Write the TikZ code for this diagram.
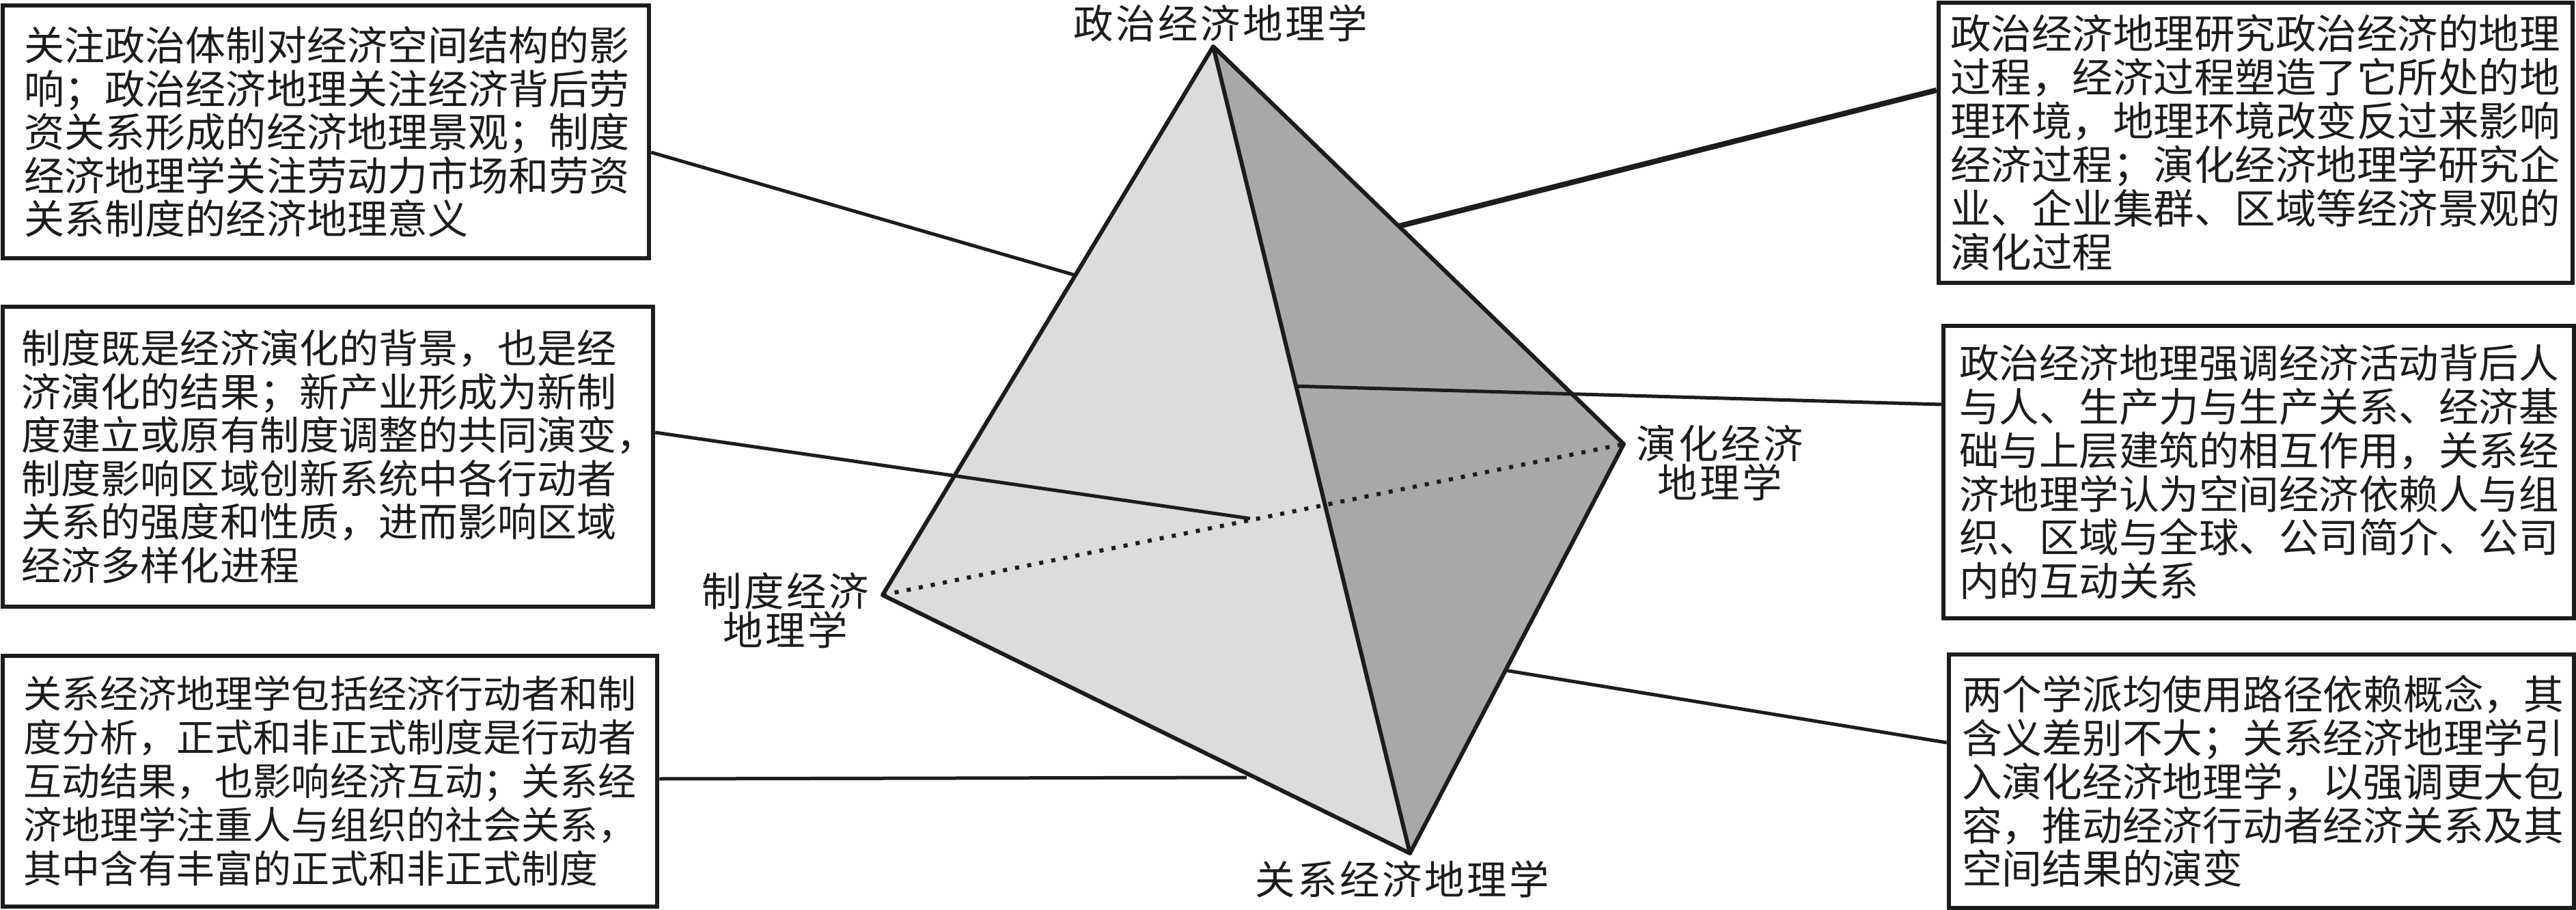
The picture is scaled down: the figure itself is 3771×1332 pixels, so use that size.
\documentclass[tikz,border=0pt]{standalone}
\usepackage{fontspec}
\setmainfont{Noto Sans CJK SC}
\newfontfamily\labfont[LetterSpace=6]{Noto Sans CJK SC}
\usetikzlibrary{calc}
\definecolor{ink}{HTML}{1C1C1C}
\definecolor{faceL}{HTML}{DCDCDC}
\definecolor{faceR}{HTML}{A8A8A8}
\tikzset{
  box/.style={draw=ink, line width=1.3pt, fill=white, inner sep=0pt, align=left, text=ink},
  lab/.style={font=\labfont\fontsize{11.7pt}{11.4pt}\selectfont, text=ink, inner sep=0pt, align=center},
  conn/.style={draw=ink, line width=1pt},
  thickconn/.style={draw=ink, line width=1.6pt},
  edge3d/.style={draw=ink, line width=1.2pt, line join=round},
  hidden/.style={draw=ink, line width=1.2pt, dash pattern=on 1.2pt off 2.4pt},
}
\begin{document}
\begin{tikzpicture}[x=0.2pt, y=-0.2pt]
\path[use as bounding box, fill=white] (0,0) rectangle (3771,1332);

% tetrahedron vertices
\coordinate (P) at (1776,68);
\coordinate (I) at (1292,871);
\coordinate (R) at (2064,1249);
\coordinate (E) at (2377,650);

% faces
\fill[faceL] (P) -- (I) -- (R) -- cycle;
\fill[faceR] (P) -- (R) -- (E) -- cycle;
\draw[edge3d] (P) -- (I) -- (R) -- (E) -- cycle;
\draw[edge3d] (P) -- (R);
\draw[hidden] (I) -- (E);

% vertex labels
\node[lab] (lP) at (1787,34) {政治经济地理学};
\node[lab] (lR) at (2053,1287) {关系经济地理学};
\node[lab] (lI) at (1150,894) {制度经济\\地理学};
\node[lab] (lE) at (2518,678) {演化经济\\地理学};

% boxes
\node[box, font=\fontsize{11.8pt}{12.7pt}\selectfont, minimum width=189.2pt, minimum height=74pt, text width=176.4pt] (A) at (477,193)
{关注政治体制对经济空间结构的影\\响；政治经济地理关注经济背后劳\\资关系形成的经济地理景观；制度\\经济地理学关注劳动力市场和劳资\\关系制度的经济地理意义};

\node[box, font=\fontsize{11.6pt}{12.7pt}\selectfont, minimum width=190.4pt, minimum height=87.8pt, text width=179.2pt] (B) at (480,668.5)
{制度既是经济演化的背景，也是经\\济演化的结果；新产业形成为新制\\度建立或原有制度调整的共同演变，\\制度影响区域创新系统中各行动者\\关系的强度和性质，进而影响区域\\经济多样化进程};

\node[box, font=\fontsize{11.2pt}{12.8pt}\selectfont, minimum width=191.6pt, minimum height=73.4pt, text width=179.2pt] (C) at (483,1143.5)
{关系经济地理学包括经济行动者和制\\度分析，正式和非正式制度是行动者\\互动结果，也影响经济互动；关系经\\济地理学注重人与组织的社会关系，\\其中含有丰富的正式和非正式制度};

\node[box, font=\fontsize{11.9pt}{12.8pt}\selectfont, minimum width=185.6pt, minimum height=82pt, text width=178.8pt] (D) at (3302,209)
{政治经济地理研究政治经济的地理\\过程，经济过程塑造了它所处的地\\理环境，地理环境改变反过来影响\\经济过程；演化经济地理学研究企\\业、企业集群、区域等经济景观的\\演化过程};

\node[box, font=\fontsize{11.7pt}{12.75pt}\selectfont, minimum width=184.6pt, minimum height=85.6pt, text width=175.4pt] (Ebox) at (3306.5,691)
{政治经济地理强调经济活动背后人\\与人、生产力与生产关系、经济基\\础与上层建筑的相互作用，关系经\\济地理学认为空间经济依赖人与组\\织、区域与全球、公司简介、公司\\内的互动关系};

\node[box, font=\fontsize{11.75pt}{12.75pt}\selectfont, minimum width=183pt, minimum height=74.2pt, text width=175.4pt] (F) at (3310.5,1143.5)
{两个学派均使用路径依赖概念，其\\含义差别不大；关系经济地理学引\\入演化经济地理学，以强调更大包\\容，推动经济行动者经济关系及其\\空间结果的演变};

% connector end points on the tetrahedron
\coordinate (pA) at ($(P)!0.417!(I)$);
\coordinate (pD) at ($(P)!0.452!(E)$);
\coordinate (pE) at ($(P)!0.421!(R)$);
\coordinate (pB) at (1830,759);
\coordinate (pC) at (1825,1138);
\coordinate (pF) at ($(E)!0.553!(R)$);

% connectors
\draw[conn] ([yshift=-6pt]A.east) -- (pA);
\draw[conn] ([yshift=7.1pt]B.east) -- (pB);
\draw[conn] ([yshift=0.7pt]C.east) -- (pC);
\draw[thickconn] ([yshift=15.4pt]D.west) -- (pD);
\draw[conn] ([yshift=19.8pt]Ebox.west) -- (pE);
\draw[conn] ([yshift=11.3pt]F.west) -- (pF);
\end{tikzpicture}
\end{document}
